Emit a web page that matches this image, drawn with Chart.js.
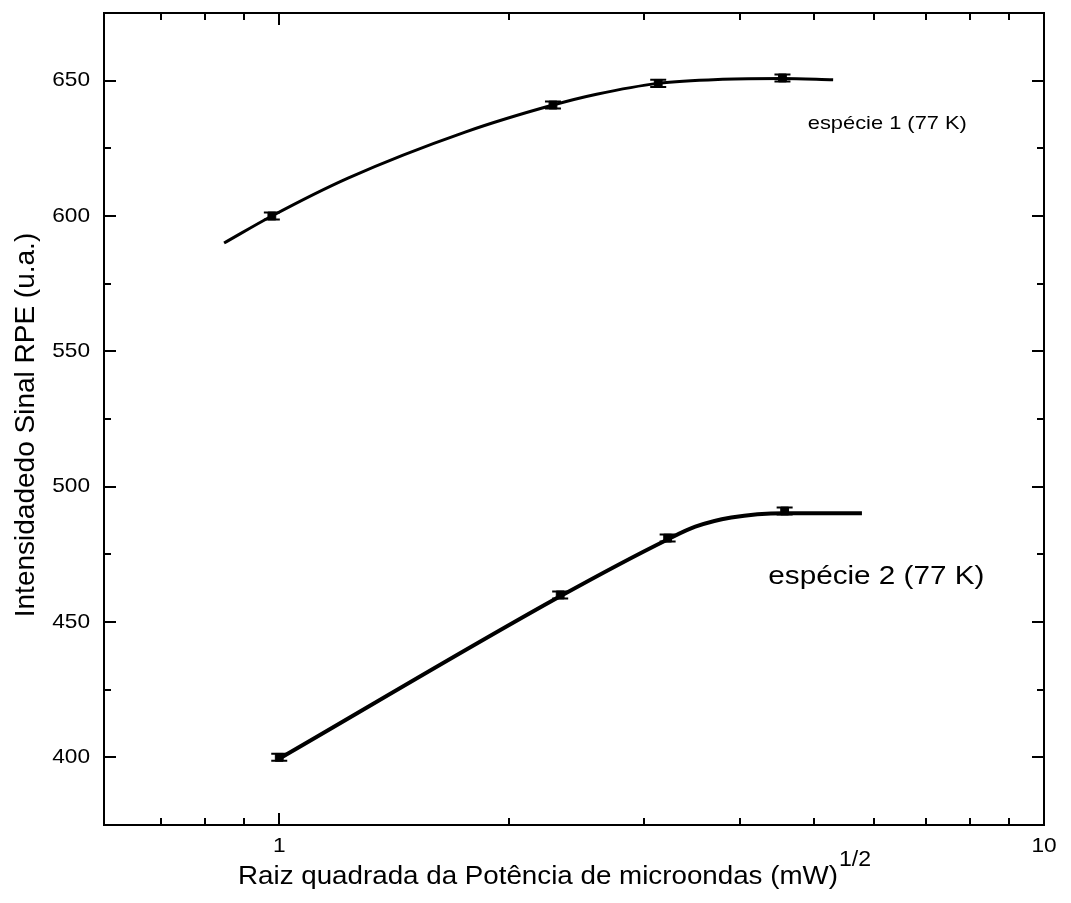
<!DOCTYPE html>
<html>
<head>
<meta charset="utf-8">
<script src="https://cdn.jsdelivr.net/npm/chart.js@4/dist/chart.umd.min.js"></script>
<style>
  html, body { margin: 0; padding: 0; background: #fff; }
  canvas { display: block; }
</style>
</head>
<body>
<canvas id="rpeChart" width="1071" height="903"></canvas>
<script>
// Pontos medidos (raiz da potência x intensidade)
const esp1X = [0.978, 2.28, 3.13, 4.55];
const esp1Y = [600, 641, 649, 651];
const esp2X = [1.0, 2.33, 3.22, 4.58];
const esp2Y = [400, 460, 481, 491];
const esp1Err = [1.3, 1.3, 1.3, 1.3];
const esp2Err = [1.3, 1.3, 1.3, 1.3];

// Curvas de ajuste
const fit1X = [0.847, 0.978, 1.23, 1.75, 2.28, 2.6, 3.13, 3.8, 4.55, 5.3];
const fit1Y = [590, 600, 614, 631, 641, 645, 649, 650.5, 650.8, 650.3];
const fit2X = [1.0, 2.33, 3.22, 3.5, 3.9, 4.58, 5.78];
const fit2Y = [399.5, 459.5, 480.5, 485.2, 488.6, 490.2, 490.2];

// Marcas dos eixos
const xMajor = [1, 10];
const xMinor = [0.7, 0.8, 0.9, 2, 3, 4, 5, 6, 7, 8, 9];
const yMajor = [400, 450, 500, 550, 600, 650];
const yMinor = [425, 475, 525, 575, 625];

const labelEsp1 = 'espécie 1 (77 K)';
const labelEsp2 = 'espécie 2 (77 K)';
const xTitle = 'Raiz quadrada da Potência de microondas (mW)';
const xTitleSup = '1/2';
const yTitle = 'Intensidadedo Sinal RPE (u.a.)';

const FONT = 'Arial, "Liberation Sans", sans-serif';

function toPoints(xs, ys) {
    return xs.map((x, i) => ({ x: x, y: ys[i] }));
}

function drawText(ctx, s, x, y, size, align, sx) {
    ctx.save();
    ctx.translate(x, y);
    ctx.scale(sx, 1);
    ctx.font = size + 'px ' + FONT;
    ctx.fillStyle = '#000';
    ctx.textAlign = align;
    ctx.textBaseline = 'middle';
    ctx.fillText(s, 0, 0);
    ctx.restore();
}

// Barras de erro
const errorBars = {
    id: 'errorBars',
    afterDatasetsDraw(chart) {
        const ctx = chart.ctx;
        const ys = chart.scales.y;
        chart.data.datasets.forEach((ds, di) => {
            if (!ds.errors) return;
            const meta = chart.getDatasetMeta(di);
            meta.data.forEach((pt, i) => {
                const v = ds.data[i].y;
                const top = ys.getPixelForValue(v + ds.errors[i]);
                const bot = ys.getPixelForValue(v - ds.errors[i]);
                ctx.save();
                ctx.strokeStyle = '#000';
                ctx.lineWidth = 2;
                ctx.beginPath();
                ctx.moveTo(pt.x, top); ctx.lineTo(pt.x, bot);
                ctx.moveTo(pt.x - 8, top); ctx.lineTo(pt.x + 8, top);
                ctx.moveTo(pt.x - 8, bot); ctx.lineTo(pt.x + 8, bot);
                ctx.stroke();
                ctx.restore();
            });
        });
    }
};

// Moldura, marcas internas, rótulos e títulos
const frame = {
    id: 'frame',
    afterDraw(chart) {
        const ctx = chart.ctx;
        const a = chart.chartArea;
        const xs = chart.scales.x;
        const ys = chart.scales.y;
        ctx.save();
        ctx.strokeStyle = '#000';
        ctx.lineWidth = 2;
        ctx.strokeRect(a.left, a.top, a.right - a.left, a.bottom - a.top);

        ctx.beginPath();
        const xt = xMajor.map(v => [v, 12]).concat(xMinor.map(v => [v, 7]));
        xt.forEach(([v, len]) => {
            const px = Math.round(xs.getPixelForValue(v));
            ctx.moveTo(px, a.bottom); ctx.lineTo(px, a.bottom - len);
            ctx.moveTo(px, a.top); ctx.lineTo(px, a.top + len);
        });
        const yt = yMajor.map(v => [v, 12]).concat(yMinor.map(v => [v, 7]));
        yt.forEach(([v, len]) => {
            const py = Math.round(ys.getPixelForValue(v));
            ctx.moveTo(a.left, py); ctx.lineTo(a.left + len, py);
            ctx.moveTo(a.right, py); ctx.lineTo(a.right - len, py);
        });
        ctx.stroke();
        ctx.restore();

        xMajor.forEach(v => {
            drawText(ctx, String(v), xs.getPixelForValue(v), a.bottom + 21, 21, 'center', 1.08);
        });
        yMajor.forEach(v => {
            drawText(ctx, String(v), a.left - 14, ys.getPixelForValue(v), 21, 'right', 1.08);
        });

        // anotações das espécies
        drawText(ctx, labelEsp1, xs.getPixelForValue(4.91), ys.getPixelForValue(634.2), 19, 'left', 1.15);
        drawText(ctx, labelEsp2, xs.getPixelForValue(4.36), ys.getPixelForValue(466.8), 26.5, 'left', 1.12);

        // título do eixo x com expoente
        ctx.save();
        ctx.font = '25px ' + FONT;
        const w = ctx.measureText(xTitle).width * 1.11;
        ctx.restore();
        const x0 = 238;
        drawText(ctx, xTitle, x0, 877, 25, 'left', 1.11);
        drawText(ctx, xTitleSup, x0 + w + 1, 860, 22, 'left', 1.05);

        // título do eixo y
        ctx.save();
        ctx.translate(26, 425);
        ctx.rotate(-Math.PI / 2);
        ctx.font = '28px ' + FONT;
        ctx.fillStyle = '#000';
        ctx.textAlign = 'center';
        ctx.textBaseline = 'middle';
        ctx.fillText(yTitle, 0, 0);
        ctx.restore();
    }
};

const ctx = document.getElementById('rpeChart').getContext('2d');
new Chart(ctx, {
    type: 'scatter',
    data: {
        datasets: [
            {
                label: 'ajuste 1',
                data: toPoints(fit1X, fit1Y),
                showLine: true,
                borderColor: '#000',
                borderWidth: 3,
                pointRadius: 0,
                cubicInterpolationMode: 'monotone'
            },
            {
                label: 'ajuste 2',
                data: toPoints(fit2X, fit2Y),
                showLine: true,
                borderColor: '#000',
                borderWidth: 4,
                pointRadius: 0,
                cubicInterpolationMode: 'monotone'
            },
            {
                label: labelEsp1,
                data: toPoints(esp1X, esp1Y),
                errors: esp1Err,
                pointStyle: 'rect',
                pointRadius: 5.5,
                backgroundColor: '#000',
                borderColor: '#000',
                borderWidth: 1
            },
            {
                label: labelEsp2,
                data: toPoints(esp2X, esp2Y),
                errors: esp2Err,
                pointStyle: 'rect',
                pointRadius: 5.5,
                backgroundColor: '#000',
                borderColor: '#000',
                borderWidth: 1
            }
        ]
    },
    options: {
        responsive: false,
        animation: false,
        layout: { padding: { left: 0, right: 27, top: 13, bottom: 0 } },
        plugins: {
            legend: { display: false },
            tooltip: { enabled: false }
        },
        scales: {
            x: {
                type: 'logarithmic',
                min: 0.59,
                max: 10,
                grid: { display: false },
                border: { display: false },
                ticks: { display: false },
                afterFit(scale) { scale.height = 78; }
            },
            y: {
                min: 375,
                max: 675,
                grid: { display: false },
                border: { display: false },
                ticks: { display: false },
                afterFit(scale) { scale.width = 104; }
            }
        }
    },
    plugins: [errorBars, frame]
});
</script>
</body>
</html>
